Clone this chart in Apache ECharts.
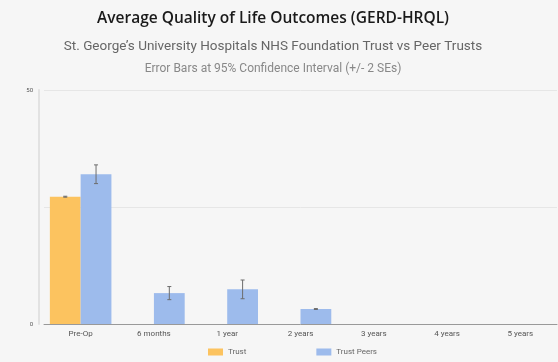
<!DOCTYPE html>
<html><head><meta charset="utf-8">
<script src="https://cdn.jsdelivr.net/npm/echarts@6/dist/echarts.min.js"></script>
<style>html,body{margin:0;padding:0;background:#f6f6f6}#c{width:558px;height:362px}</style>
</head><body><div id="c"></div>
<script>
const categories = ['Pre-Op','6 months','1 year','2 years','3 years','4 years','5 years'];
const trust = [27.2, null, null, null, null, null, null];
const trustErr = [0.1, null, null, null, null, null, null];
const peers = [32.0, 6.6, 7.4, 3.2, null, null, null];
const peersErr = [2.0, 1.4, 2.0, 0.1, null, null, null];

const chart = echarts.init(document.getElementById('c'));
function errSeries(vals, errs, side) {
  const data = [];
  vals.forEach((v, i) => { if (v != null) data.push([i, v - errs[i], v + errs[i]]); });
  return {
    type: 'custom', silent: true, z: 10,
    data: data,
    renderItem: function (params, api) {
      const i = api.value(0);
      const lo = api.coord([i, api.value(1)]);
      const hi = api.coord([i, api.value(2)]);
      const bw = api.size([1, 0])[0];
      const x = lo[0] + side * bw * 0.21;
      const cap = 2;
      const st = { stroke: '#6d6d6d', lineWidth: 1 };
      return { type: 'group', children: [
        { type: 'line', shape: { x1: x, y1: lo[1], x2: x, y2: hi[1] }, style: st },
        { type: 'line', shape: { x1: x - cap, y1: lo[1], x2: x + cap, y2: lo[1] }, style: st },
        { type: 'line', shape: { x1: x - cap, y1: hi[1], x2: x + cap, y2: hi[1] }, style: st }
      ]};
    }
  };
}
chart.setOption({
  backgroundColor: '#f6f6f6',
  animation: false,
  title: [
    { text: 'Average Quality of Life Outcomes (GERD-HRQL)', left: 268, textAlign: 'center', top: 6,
      textStyle: { fontFamily: 'Open Sans', fontSize: 15.5, fontWeight: 600, color: '#1a1a1a' } },
    { text: 'St. George\u2019s University Hospitals NHS Foundation Trust vs Peer Trusts', left: 268, textAlign: 'center', top: 35,
      textStyle: { fontFamily: 'Roboto', fontSize: 13.5, fontWeight: 'normal', color: '#666' } },
    { text: 'Error Bars at 95% Confidence Interval (+/- 2 SEs)', left: 268, textAlign: 'center', top: 58,
      textStyle: { fontFamily: 'Roboto', fontSize: 12, fontWeight: 'normal', color: '#888' } }
  ],
  legend: {
    bottom: 1, left: 203, itemGap: 70, itemWidth: 15, itemHeight: 7, icon: 'rect',
    textStyle: { fontFamily: 'Roboto', fontSize: 8, color: '#666' },
    data: ['Trust', 'Trust Peers']
  },
  grid: { left: 44, right: 1, top: 90, bottom: 38 },
  xAxis: {
    type: 'category', data: categories,
    axisLine: { lineStyle: { color: '#999' } },
    axisTick: { alignWithLabel: true, length: 3, lineStyle: { color: '#bbb' } },
    axisLabel: { fontFamily: 'Roboto', fontSize: 8, color: '#555', margin: 6 }
  },
  yAxis: {
    type: 'value', min: 0, max: 50, interval: 25, offset: 5,
    axisLine: { show: true, lineStyle: { color: '#e2e2e2', width: 2 } },
    axisTick: { show: false },
    axisLabel: { fontFamily: 'Roboto', fontSize: 6, color: '#555', margin: 6,
      formatter: v => (v === 25 ? '' : v) },
    splitLine: { lineStyle: { color: '#e6e6e6', width: 1 } }
  },
  series: [
    { name: 'Trust', type: 'bar', data: trust, barGap: '0%', barCategoryGap: '16%',
      itemStyle: { color: '#fcc35f' } },
    { name: 'Trust Peers', type: 'bar', data: peers,
      itemStyle: { color: '#9dbbec' } },
    errSeries(trust, trustErr, -1),
    errSeries(peers, peersErr, 1)
  ]
});
</script></body></html>
